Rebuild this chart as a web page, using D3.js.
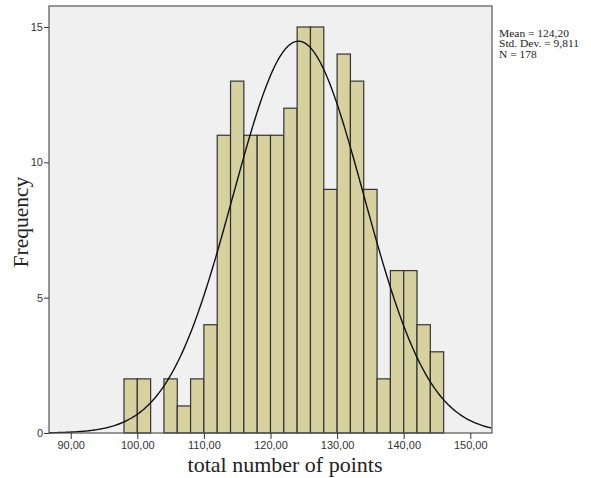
<!DOCTYPE html>
<html>
<head>
<script src="https://d3js.org/d3.v7.min.js"></script>
<style>
  body { margin: 0; background: #fff; }
  .tick text { font-family: 'Liberation Sans', Arial, sans-serif; font-size: 11px; fill: #333; }
  .lbl { font-family: 'Liberation Serif', 'Times New Roman', serif; fill: #222; }
  .stat { font-family: 'Liberation Serif', serif; fill: #222; }
</style>
</head>
<body>
<svg id="chart" width="591" height="478"></svg>
<script>
'use strict';

// bin starts (width 2) and counts
var binStarts = [98,100,102,104,106,108,110,112,114,116,118,120,122,124,126,128,130,132,134,136,138,140,142,144];
var counts    = [2, 2, 0, 2, 1, 2, 4, 11,13,11,11,11,12,15,15,9, 14,13,9, 2, 6, 6, 4, 3];
var xTicks = [90,100,110,120,130,140,150];
var yTicks = [0,5,10,15];
var stats = ["Mean = 124,20", "Std. Dev. = 9,811", "N = 178"];
var mean = 124.20, sd = 9.811, n = 178, binWidth = 2;

var margin = {left: 49, top: 6, right: 99, bottom: 45};
var width = 591 - margin.left - margin.right;
var height = 478 - margin.top - margin.bottom;

var svg = d3.select("#chart");
var g = svg.append("g").attr("transform", "translate(" + margin.left + "," + margin.top + ")");

var x = d3.scaleLinear().domain([86.74, 153.26]).range([0, width]);
var y = d3.scaleLinear().domain([0, 15]).range([height, height - 406]);

g.append("rect").attr("width", width).attr("height", height).attr("fill", "#f0f0f0");

g.selectAll(".bar")
  .data(binStarts.map(function(s, i) { return {s: s, c: counts[i]}; }).filter(function(d) { return d.c > 0; }))
  .enter().append("rect")
  .attr("x", function(d) { return x(d.s); })
  .attr("width", function(d) { return x(d.s + binWidth) - x(d.s); })
  .attr("y", function(d) { return y(d.c); })
  .attr("height", function(d) { return y(0) - y(d.c); })
  .attr("fill", "#d6d19e")
  .attr("stroke", "#333")
  .attr("stroke-width", 1.2);

// normal curve
var pts = d3.range(86.74, 153.26, 0.2).map(function(v) {
  var z = (v - mean) / sd;
  return [v, n * binWidth * Math.exp(-0.5 * z * z) / (sd * Math.sqrt(2 * Math.PI))];
});
g.append("path")
  .datum(pts)
  .attr("fill", "none")
  .attr("stroke", "#111")
  .attr("stroke-width", 1.4)
  .attr("d", d3.line().x(function(d) { return x(d[0]); }).y(function(d) { return y(d[1]); }));

g.append("rect").attr("width", width).attr("height", height)
  .attr("fill", "none").attr("stroke", "#555").attr("stroke-width", 1.2);

var xAxis = g.append("g").attr("transform", "translate(0," + height + ")")
  .call(d3.axisBottom(x).tickValues(xTicks).tickSize(6).tickSizeOuter(0)
    .tickFormat(function(d) { return d + ",00"; }));
xAxis.select(".domain").remove();
xAxis.selectAll(".tick line").attr("stroke", "#333");
xAxis.selectAll(".tick text").attr("dy", "0.6em");

var yAxis = g.append("g")
  .call(d3.axisLeft(y).tickValues(yTicks).tickSize(5).tickSizeOuter(0));
yAxis.select(".domain").remove();
yAxis.selectAll(".tick line").attr("stroke", "#333");
yAxis.selectAll(".tick text").attr("x", -6);

svg.append("text").attr("class", "lbl")
  .attr("x", 285).attr("y", 472)
  .attr("text-anchor", "middle").attr("font-size", 22)
  .text("total number of points");

svg.append("text").attr("class", "lbl")
  .attr("transform", "translate(28,222) rotate(-90)")
  .attr("text-anchor", "middle").attr("font-size", 21.5)
  .text("Frequency");

// stats box: wide bitmap-like serif, stretched horizontally
var statText = svg.append("g").selectAll("text").data(stats).enter().append("text")
  .attr("class", "stat")
  .attr("font-size", 10.5)
  .text(function(d) { return d; });
var w0 = statText.node().getComputedTextLength();
var sx = 70 / w0;
statText.attr("transform", function(d, i) {
  return "translate(499," + (37 + i * 10.4) + ") scale(" + sx + ",1)";
});
</script>
</body>
</html>
